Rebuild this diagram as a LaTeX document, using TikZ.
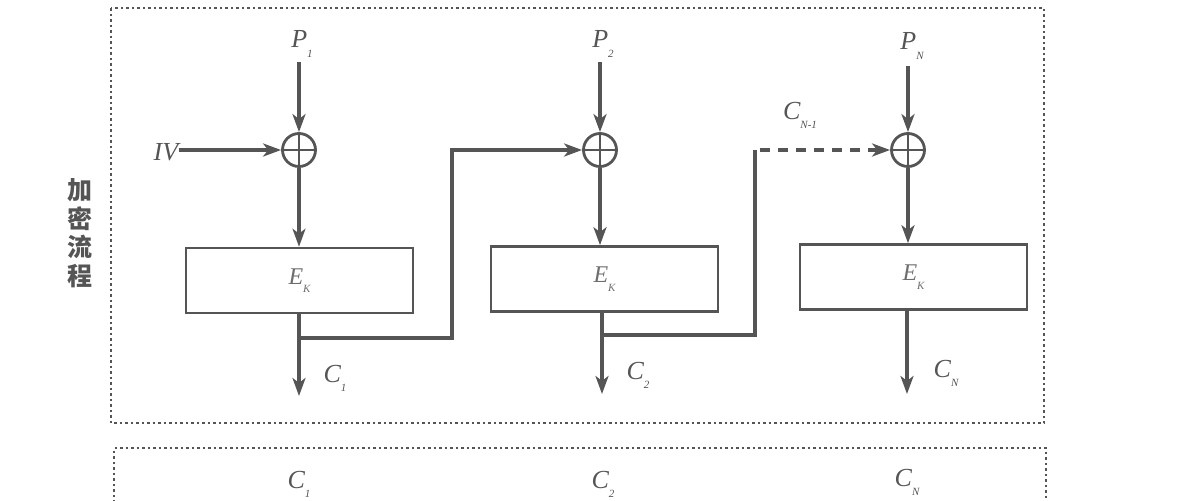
\documentclass[tikz,border=0pt]{standalone}
\usepackage{fontspec}
\setmainfont{Liberation Serif}
\newfontfamily\cjk{Noto Sans CJK SC}
\usetikzlibrary{arrows.meta}
\definecolor{ink}{HTML}{555555}
\newcommand{\lab}[2]{{\itshape #1}\raisebox{-0.35em}{\fontsize{11}{12}\selectfont\itshape #2}}
\tikzset{
  line/.style={draw=ink, line width=3.2pt},
  arr/.style={line, -{Stealth[length=18pt,width=13pt,inset=5pt]}},
  frame/.style={draw=ink, line width=1.8pt, dash pattern=on 2.5pt off 3pt},
  encbox/.style={draw=ink, line width=2.6pt, minimum width=227pt, minimum height=65pt, inner sep=0pt, font=\fontsize{24}{26}\selectfont, text=ink!85},
  xor/.style={circle, draw=ink, line width=2.8pt, minimum size=33pt, inner sep=0pt,
     path picture={\draw[ink, line width=2.4pt] (path picture bounding box.north) -- (path picture bounding box.south) (path picture bounding box.west) -- (path picture bounding box.east);}},
  lbl/.style={font=\fontsize{26}{28}\selectfont, text=ink, inner sep=1pt}
}
\begin{document}
\begin{tikzpicture}[x=1pt,y=-1pt]
\useasboundingbox (0,0) rectangle (1179,501);
\clip (0,0) rectangle (1179,501);
% frames
\draw[frame] (111,8) rectangle (1044,423);
\draw[frame] (114,530) -- (114,448) -- (1046,448) -- (1046,530);
% side label
\node[font=\cjk\bfseries\fontsize{25}{28.5}\selectfont, text=ink, align=center] (title) at (80,233) {加\\密\\流\\程};
% plaintext labels
\node[lbl] (p1) at (302,44) {\lab{P}{1}};
\node[lbl] (p2) at (603,44) {\lab{P}{2}};
\node[lbl] (p3) at (912,46) {\lab{P}{N}};
% xors
\node[xor] (x1) at (299,150) {};
\node[xor] (x2) at (600,150) {};
\node[xor] (x3) at (908,150) {};
% boxes
\node[encbox] (e1) at (299.5,280.5) {\lab{E}{K}};
\node[encbox] (e2) at (604.5,279) {\lab{E}{K}};
\node[encbox] (e3) at (913.5,277) {\lab{E}{K}};
% IV
\node[lbl] (iv) at (166,152) {\itshape IV};
\draw[arr] (iv.east |- x1) -- (x1.west);
% P arrows
\coordinate (t1) at (299,62);
\coordinate (t2) at (600,62);
\coordinate (t3) at (908,66);
\draw[arr] (t1) -- (x1.north);
\draw[arr] (t2) -- (x2.north);
\draw[arr] (t3) -- (x3.north);
% xor to boxes
\draw[arr] (x1.south) -- (e1.north -| x1);
\draw[arr] (x2.south) -- (e2.north -| x2);
\draw[arr] (x3.south) -- (e3.north -| x3);
% outputs
\coordinate (o1) at (299,396);
\coordinate (o2) at (602,394);
\coordinate (o3) at (907,394);
\draw[arr] (e1.south -| o1) -- (o1);
\draw[arr] (e2.south -| o2) -- (o2);
\draw[arr] (e3.south -| o3) -- (o3);
\node[lbl] (c1) at (335,378) {\lab{C}{1}};
\node[lbl] (c2) at (638,375) {\lab{C}{2}};
\node[lbl] (c3) at (946,373) {\lab{C}{N}};
% chaining
\coordinate (b1) at (299,338);
\coordinate (b2) at (602,335);
\coordinate (k1) at (452,150);
\coordinate (k2) at (755,150);
\draw[arr] (b1) -- (b1 -| k1) -- (k1) -- (x2.west);
\draw[line] (b2) -- (b2 -| k2) -- (k2);
\draw[arr, dash pattern=on 10pt off 8pt] ([xshift=5pt]k2) -- (x3.west);
\node[lbl] (cn1) at (800,115) {\lab{C}{N-1}};
% bottom labels
\node[lbl] (d1) at (299,484) {\lab{C}{1}};
\node[lbl] (d2) at (603,484) {\lab{C}{2}};
\node[lbl] (d3) at (907,482) {\lab{C}{N}};
\end{tikzpicture}
\end{document}
